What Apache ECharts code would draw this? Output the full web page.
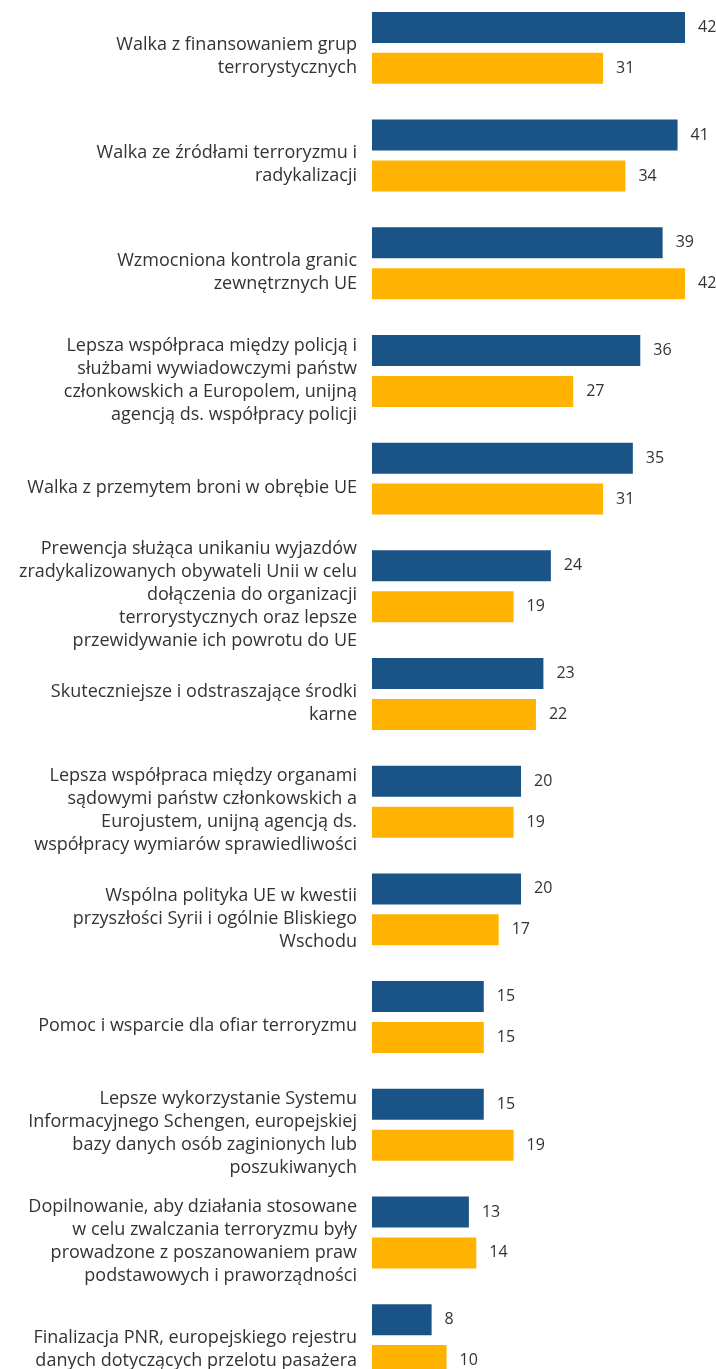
<!DOCTYPE html>
<html>
<head>
<meta charset="utf-8">
<script src="https://cdn.jsdelivr.net/npm/echarts@6/dist/echarts.min.js"></script>
<style>
    html, body { margin: 0; padding: 0; background: #fff; }
    #chart { width: 716px; height: 1369px; }
</style>
</head>
<body>
<div id="chart"></div>
<script>
var categories = [
    'Walka z finansowaniem grup\nterrorystycznych',
    'Walka ze źródłami terroryzmu i\nradykalizacji',
    'Wzmocniona kontrola granic\nzewnętrznych UE',
    'Lepsza współpraca między policją i\nsłużbami wywiadowczymi państw\nczłonkowskich a Europolem, unijną\nagencją ds. współpracy policji',
    'Walka z przemytem broni w obrębie UE',
    'Prewencja służąca unikaniu wyjazdów\nzradykalizowanych obywateli Unii w celu\ndołączenia do organizacji\nterrorystycznych oraz lepsze\nprzewidywanie ich powrotu do UE',
    'Skuteczniejsze i odstraszające środki\nkarne',
    'Lepsza współpraca między organami\nsądowymi państw członkowskich a\nEurojustem, unijną agencją ds.\nwspółpracy wymiarów sprawiedliwości',
    'Wspólna polityka UE w kwestii\nprzyszłości Syrii i ogólnie Bliskiego\nWschodu',
    'Pomoc i wsparcie dla ofiar terroryzmu',
    'Lepsze wykorzystanie Systemu\nInformacyjnego Schengen, europejskiej\nbazy danych osób zaginionych lub\nposzukiwanych',
    'Dopilnowanie, aby działania stosowane\nw celu zwalczania terroryzmu były\nprowadzone z poszanowaniem praw\npodstawowych i praworządności',
    'Finalizacja PNR, europejskiego rejestru\ndanych dotyczących przelotu pasażera'
];
var seriesBlue = [42, 41, 39, 36, 35, 24, 23, 20, 20, 15, 15, 13, 8];
var seriesOrange = [31, 34, 42, 27, 31, 19, 22, 19, 17, 15, 19, 14, 10];

var myChart = echarts.init(document.getElementById('chart'));
var valueLabel = {
    show: true,
    position: 'right',
    distance: 13,
    color: '#333',
    fontSize: 16,
    fontFamily: 'Open Sans'
};
var option = {
    animation: false,
    grid: {
        left: 372,
        top: -6,
        width: 313,
        height: 1400,
        containLabel: false,
        outerBoundsMode: 'none'
    },
    xAxis: {
        type: 'value',
        min: 0,
        max: 42,
        show: false
    },
    yAxis: {
        type: 'category',
        inverse: true,
        data: categories,
        axisLine: { show: false },
        axisTick: { show: false },
        axisLabel: {
            margin: 15,
            color: '#333',
            fontSize: 18,
            lineHeight: 23,
            fontFamily: 'Open Sans',
            align: 'right',
            // pusta linia na gorze przesuwa tekst w dol
            formatter: function (value) {
                return '{gap|}\n' + value;
            },
            rich: {
                gap: { height: 18, lineHeight: 18 }
            }
        }
    },
    series: [
        {
            name: 'blue',
            type: 'bar',
            data: seriesBlue,
            barWidth: 31,
            barGap: '32%',
            itemStyle: { color: '#1a5385' },
            label: valueLabel
        },
        {
            name: 'orange',
            type: 'bar',
            data: seriesOrange,
            barWidth: 31,
            barGap: '32%',
            itemStyle: { color: '#ffb300' },
            label: valueLabel
        }
    ]
};
myChart.setOption(option);
</script>
</body>
</html>
